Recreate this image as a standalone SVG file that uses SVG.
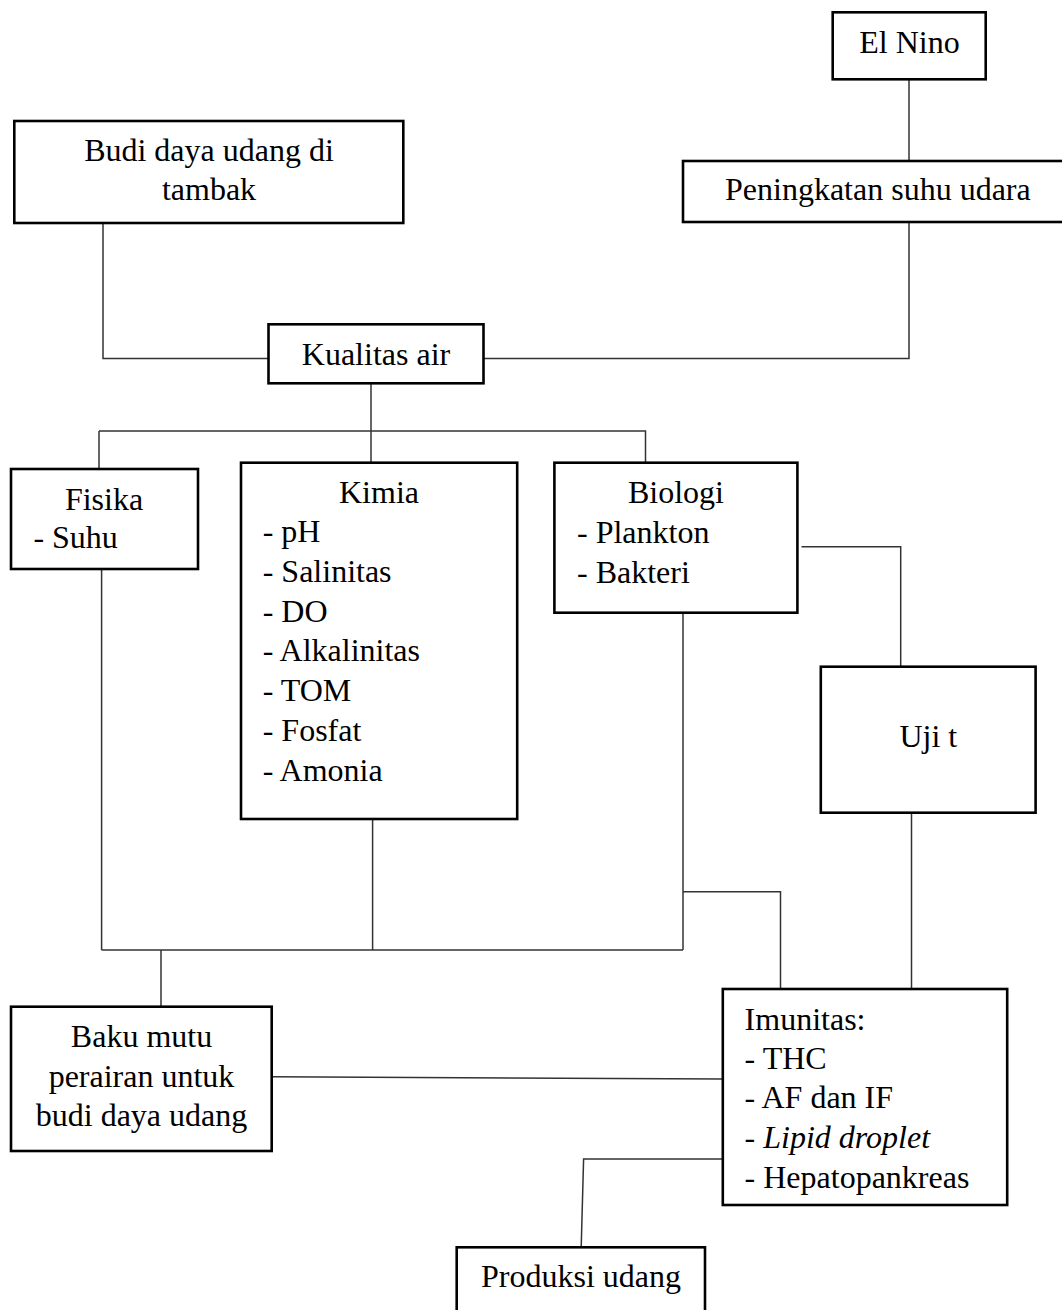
<svg xmlns="http://www.w3.org/2000/svg" width="1062" height="1310" viewBox="0 0 1062 1310">
<style>
.box{fill:#fff;stroke:#000;stroke-width:2.6}
.c{fill:none;stroke:#333;stroke-width:1.5}
text{font-family:"Liberation Serif","Times New Roman",serif;font-size:32px;fill:#000}
.m{text-anchor:middle}
</style>
<rect width="1062" height="1310" fill="#fff"/>
<g id="connectors">
<path class="c" d="M909,79 V161"/>
<path class="c" d="M103,223 V358.5 H269"/>
<path class="c" d="M909,222 V358.5 H484"/>
<path class="c" d="M371,383 V463"/>
<path class="c" d="M99,431 H645.5 V463"/>
<path class="c" d="M99,431 V469"/>
<path class="c" d="M101.6,569 V950"/>
<path class="c" d="M372.6,819 V950"/>
<path class="c" d="M683,613 V950"/>
<path class="c" d="M101.6,950 H683"/>
<path class="c" d="M161,950 V1006.5"/>
<path class="c" d="M683,891.7 H780.5 V989"/>
<path class="c" d="M801.5,546.7 H900.7 V666.7"/>
<path class="c" d="M911.5,813 V989"/>
<path class="c" d="M272,1076.7 L723,1079"/>
<path class="c" d="M723,1159 H583.6 L581.2,1247.3"/>
</g>
<g id="el-nino">
<rect class="box" x="832.7" y="12.3" width="153" height="67"/>
<text class="m" x="909.5" y="53.3">El Nino</text>
</g>
<g id="peningkatan">
<rect class="box" x="683" y="161" width="385" height="61"/>
<text x="725" y="200">Peningkatan suhu udara</text>
</g>
<g id="budi-daya">
<rect class="box" x="14.3" y="121" width="389" height="102"/>
<text class="m" x="209" y="161">Budi daya udang di</text>
<text class="m" x="209" y="200">tambak</text>
</g>
<g id="kualitas-air">
<rect class="box" x="268.5" y="324.3" width="215" height="59"/>
<text class="m" x="376" y="365">Kualitas air</text>
</g>
<g id="fisika">
<rect class="box" x="11" y="469" width="187" height="100"/>
<text class="m" x="104" y="510">Fisika</text>
<text x="33.4" y="548.3">- Suhu</text>
</g>
<g id="kimia">
<rect class="box" x="241" y="462.7" width="276.2" height="356.3"/>
<text class="m" x="379" y="502.7">Kimia</text>
<text x="262.7" y="542">- pH</text>
<text x="262.7" y="581.8">- Salinitas</text>
<text x="262.7" y="621.6">- DO</text>
<text x="262.7" y="661.4">- Alkalinitas</text>
<text x="262.7" y="701.2">- TOM</text>
<text x="262.7" y="741">- Fosfat</text>
<text x="262.7" y="780.8">- Amonia</text>
</g>
<g id="biologi">
<rect class="box" x="554.4" y="462.7" width="243" height="150"/>
<text class="m" x="676" y="503.3">Biologi</text>
<text x="577" y="542.7">- Plankton</text>
<text x="577" y="582.7">- Bakteri</text>
</g>
<g id="uji-t">
<rect class="box" x="820.8" y="666.7" width="214.8" height="146"/>
<text class="m" x="928.3" y="746.7">Uji t</text>
</g>
<g id="baku-mutu">
<rect class="box" x="11" y="1006.7" width="260.7" height="144.3"/>
<text class="m" x="141.5" y="1046.7">Baku mutu</text>
<text class="m" x="141.5" y="1086.7">perairan untuk</text>
<text class="m" x="141.5" y="1125.7">budi daya udang</text>
</g>
<g id="imunitas">
<rect class="box" x="722.8" y="989" width="284.4" height="216"/>
<text x="744.6" y="1029.5">Imunitas:</text>
<text x="744.6" y="1068.5">- THC</text>
<text x="744.6" y="1108">- AF dan IF</text>
<text x="744.6" y="1147.5">- <tspan font-style="italic">Lipid droplet</tspan></text>
<text x="744.6" y="1187.5">- Hepatopankreas</text>
</g>
<g id="produksi-udang">
<rect class="box" x="456.7" y="1247.3" width="248.3" height="70"/>
<text class="m" x="581" y="1286.7">Produksi udang</text>
</g>
</svg>
